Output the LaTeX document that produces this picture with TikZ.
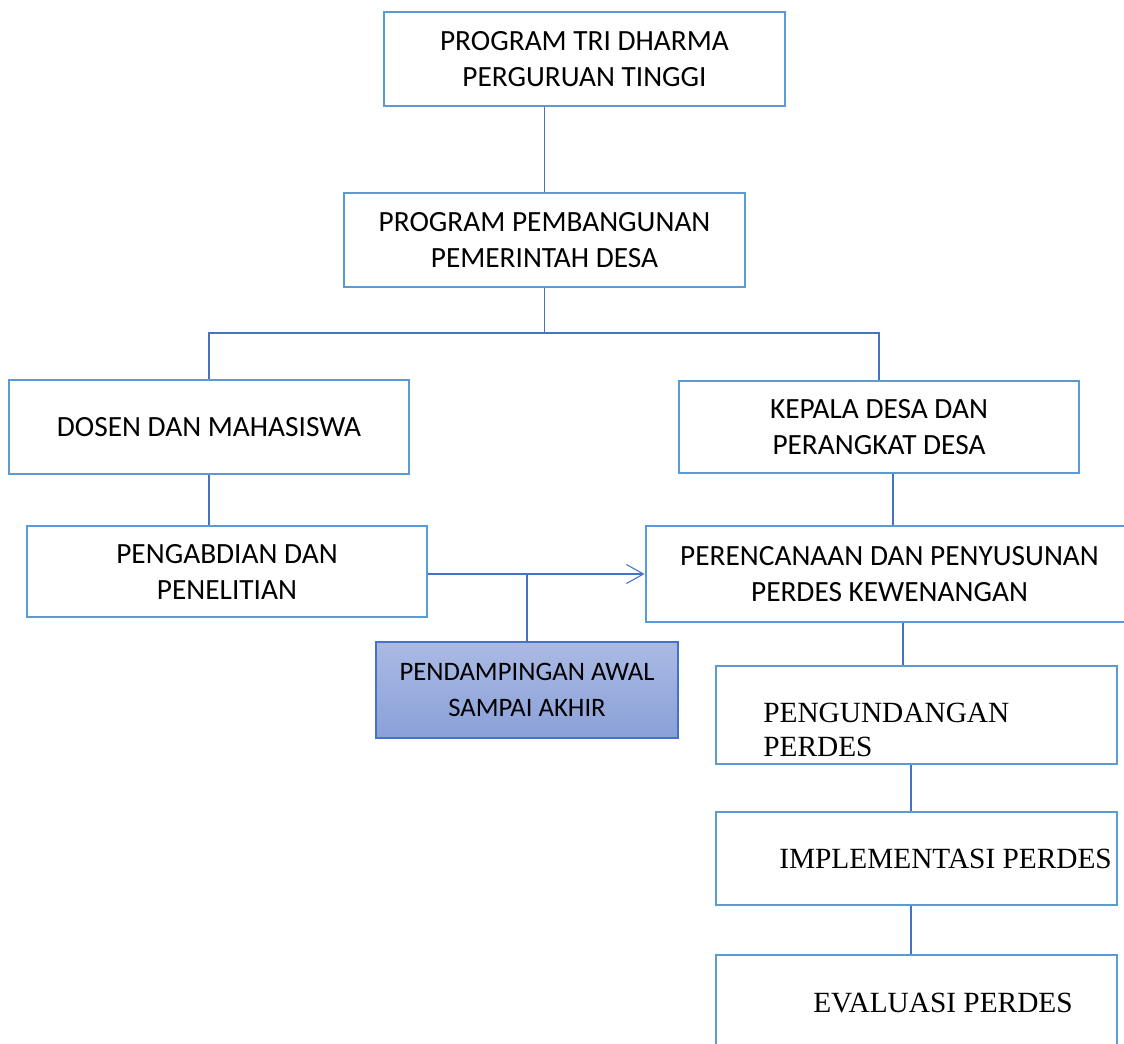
\documentclass[tikz,border=0pt]{standalone}
\usepackage{fontspec}
\setmainfont{Carlito}
\newfontfamily\serifteks{Liberation Serif}
\usetikzlibrary{arrows.meta}
\definecolor{kotakbiru}{HTML}{5B9BD5}
\definecolor{garisbiru}{HTML}{4472C4}
\definecolor{isiatas}{HTML}{AABAE4}
\definecolor{isibawah}{HTML}{8AA0D8}
\newcommand\piks{0.75pt}

\begin{document}
\begin{tikzpicture}[x=0.75pt,y=-0.75pt,
    kotak/.style={draw=kotakbiru,line width=2.2pt,rectangle,inner sep=0pt,align=center,font=\fontsize{22}{27}\selectfont},
    garis/.style={draw=garisbiru,line width=1.1pt},
    serif/.style={inner sep=0pt,align=left,font=\serifteks\fontsize{22}{25.5}\selectfont}]
\useasboundingbox (0,0) rectangle (1124,1043);

% kotak-kotak
\node[kotak,minimum width=401*\piks,minimum height=94*\piks] (tri) at (584.5,59) {PROGRAM TRI DHARMA\\PERGURUAN TINGGI};
\node[kotak,minimum width=401*\piks,minimum height=94*\piks] (pemb) at (544.5,240) {PROGRAM PEMBANGUNAN\\PEMERINTAH DESA};
\node[kotak,minimum width=400*\piks,minimum height=94*\piks] (dosen) at (209,427) {DOSEN DAN MAHASISWA};
\node[kotak,minimum width=400*\piks,minimum height=92*\piks] (kepala) at (879,427) {KEPALA DESA DAN\\PERANGKAT DESA};
\node[kotak,minimum width=400*\piks,minimum height=91*\piks] (abdi) at (227,571.5) {PENGABDIAN DAN\\PENELITIAN};
\node[kotak,minimum width=487*\piks,minimum height=96*\piks] (rencana) at (889.5,574) {PERENCANAAN DAN PENYUSUNAN\\PERDES KEWENANGAN};
\node[kotak,draw=garisbiru,line width=1.2pt,top color=isiatas,bottom color=isibawah,font=\fontsize{20}{27}\selectfont,minimum width=302*\piks,minimum height=96*\piks] (damping) at (527,690) {PENDAMPINGAN AWAL\\SAMPAI AKHIR};
\node[kotak,minimum width=401*\piks,minimum height=98*\piks] (undang) at (916.5,715) {};
\node[kotak,minimum width=401*\piks,minimum height=93*\piks] (impl) at (916.5,858.5) {};
\node[kotak,minimum width=401*\piks,minimum height=95*\piks] (eval) at (916.5,1002.5) {};
\node[serif,anchor=west] (undang-teks) at (763,729.5) {PENGUNDANGAN\\PERDES};
\node[serif,anchor=base west] (impl-teks) at (779,868) {IMPLEMENTASI PERDES};
\node[serif,anchor=base west] (eval-teks) at (813,1012) {EVALUASI PERDES};

% garis penghubung
\coordinate (cabang) at (542,333);
\draw[garis] (pemb.north |- tri.south) -- (pemb.north);
\draw[garis] (pemb.south) -- (pemb.south |- cabang);
\draw[garis] (dosen.north) -- (dosen.north |- cabang) -- (kepala.north |- cabang) -- (kepala.north);
\draw[garis] (dosen.south) -- (dosen.south |- abdi.north);
\draw[garis] ([xshift=10.5pt]kepala.south) -- ([xshift=10.5pt]kepala.south |- rencana.north);
\draw[garis,-{Straight Barb[length=12.75pt,width=14.25pt,line width=0.8pt]}] (abdi.east |- rencana.west) -- (rencana.west);
\draw[garis] (damping.north |- rencana.west) -- (damping.north);
\draw[garis] ([xshift=10pt]rencana.south) -- ([xshift=10pt]rencana.south |- undang.north);
\draw[garis] ([xshift=-4pt]undang.south) -- ([xshift=-4pt]impl.north);
\draw[garis] ([xshift=-4pt]impl.south) -- ([xshift=-4pt]eval.north);
\end{tikzpicture}
\end{document}
